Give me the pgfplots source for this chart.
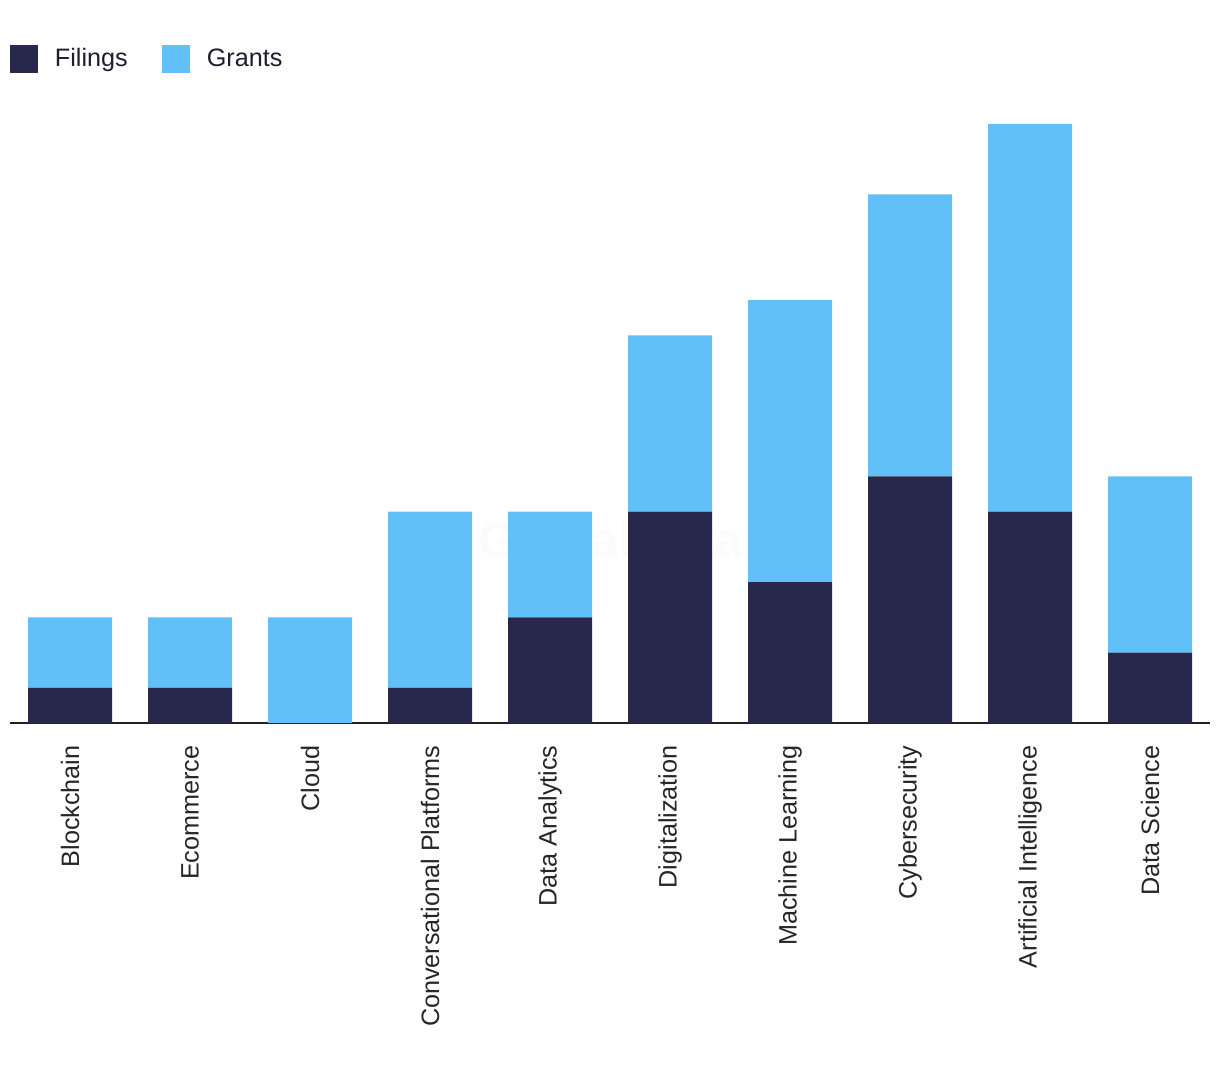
\documentclass[border=0pt]{standalone}
\usepackage{pgfplots}
\pgfplotsset{compat=1.18}
\usepackage{fontspec}
\setmainfont{Liberation Sans}
\definecolor{navy}{RGB}{39,40,75}
\definecolor{sky}{RGB}{98,192,249}
\definecolor{axisc}{RGB}{30,30,46}
\begin{document}
\begin{tikzpicture}
\useasboundingbox (0,0) rectangle (610pt,540pt);
\begin{axis}[
  at={(5pt,178.5pt)}, anchor=south west,
  scale only axis, width=600pt, height=299.5pt,
  xmin=-0.5, xmax=9.5, ymin=0, ymax=17,
  ybar stacked, bar width=42pt,
  axis x line*=bottom, axis y line=none,
  x axis line style={line width=1pt, color=axisc, -},
  xtick={0,...,9}, major tick length=0pt,
  xticklabels={Blockchain,Ecommerce,Cloud,Conversational Platforms,Data Analytics,Digitalization,Machine Learning,Cybersecurity,Artificial Intelligence,Data Science},
  xticklabel style={rotate=90, anchor=east, inner sep=0pt, xshift=-11pt, font=\fontsize{12.6pt}{14pt}\selectfont, text=black!85},
  clip=false,
  legend columns=-1,
  legend style={draw=none, fill=none, at={(0,1)}, anchor=west, yshift=32.5pt, xshift=0pt, inner sep=0pt, outer sep=0pt,
     font=\fontsize{12.6pt}{14pt}\selectfont, text=axisc,
     /tikz/every odd column/.append style={column sep=6.5pt},
     /tikz/every even column/.append style={column sep=15pt}},
  legend image code/.code={\fill[#1] (0pt,-7pt) rectangle (14pt,7pt);},
]
\addplot[fill=navy, draw=none] coordinates {(0,1) (1,1) (2,0) (3,1) (4,3) (5,6) (6,4) (7,7) (8,6) (9,2)};
\addplot[fill=sky, draw=none] coordinates {(0,2) (1,2) (2,3) (3,5) (4,3) (5,5) (6,8) (7,8) (8,11) (9,5)};
\legend{Filings,Grants}
\node[font=\bfseries\fontsize{25pt}{28pt}\selectfont, text=gray!12, opacity=0.25] at (axis cs:4.5,5.2) {GlobalData};
\end{axis}
\end{tikzpicture}
\end{document}
